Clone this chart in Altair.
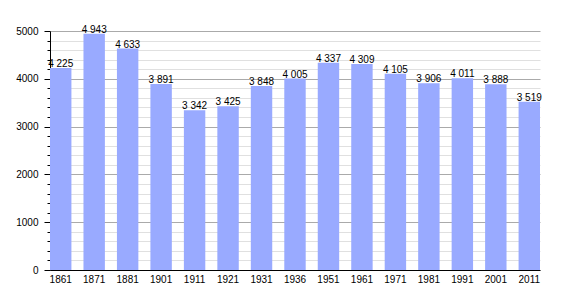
import altair as alt
import pandas as pd

years = ["1861", "1871", "1881", "1901", "1911", "1921", "1931", "1936",
         "1951", "1961", "1971", "1981", "1991", "2001", "2011"]
population = [4225, 4943, 4633, 3891, 3342, 3425, 3848, 4005,
              4337, 4309, 4105, 3906, 4011, 3888, 3519]

df = pd.DataFrame({"year": years, "pop": population})

FONT = "Liberation Sans"
FS = 10

x = alt.X("year:N", sort=years, title=None,
          scale=alt.Scale(paddingInner=0.36, paddingOuter=0),
          axis=alt.Axis(labelAngle=0, ticks=False, domainColor="#000000",
                        labelFont=FONT, labelFontSize=FS, labelColor="#000000",
                        labelPadding=4, grid=False))

y = alt.Y("pop:Q", title=None,
          scale=alt.Scale(domain=[0, 5000], nice=False),
          axis=alt.Axis(values=list(range(0, 5001, 200)),
                        tickCount=60,
                        labelExpr="datum.value % 1000 === 0 ? datum.value : ''",
                        labelOverlap=False,
                        tickSize={"expr": "datum.value % 1000 === 0 ? 6 : 3"},
                        tickColor="#000000", domainColor="#000000",
                        gridColor={"expr": "datum.value % 1000 === 0 ? '#aaaaaa' : '#e0e0e0'"},
                        labelFont=FONT, labelFontSize=FS, labelColor="#000000",
                        labelPadding=6, grid=True))

bars = alt.Chart(df).mark_bar(color="#99aaff").encode(x=x, y=y)

text = alt.Chart(df).transform_calculate(
    label="replace(format(datum.pop, ','), ',', ' ')"
).mark_text(baseline="bottom", dy=1, font=FONT, fontSize=FS, color="#000000").encode(
    x=alt.X("year:N", sort=years), y="pop:Q", text="label:N")

chart = (bars + text).properties(
    width=490, height=239,
    autosize=alt.AutoSizeParams(type="none"),
    padding={"left": 50, "top": 31, "right": 30, "bottom": 30},
    background="#ffffff",
).configure_view(stroke=None)

chart.save("out.html", embed_options={"renderer": "svg", "actions": False})
